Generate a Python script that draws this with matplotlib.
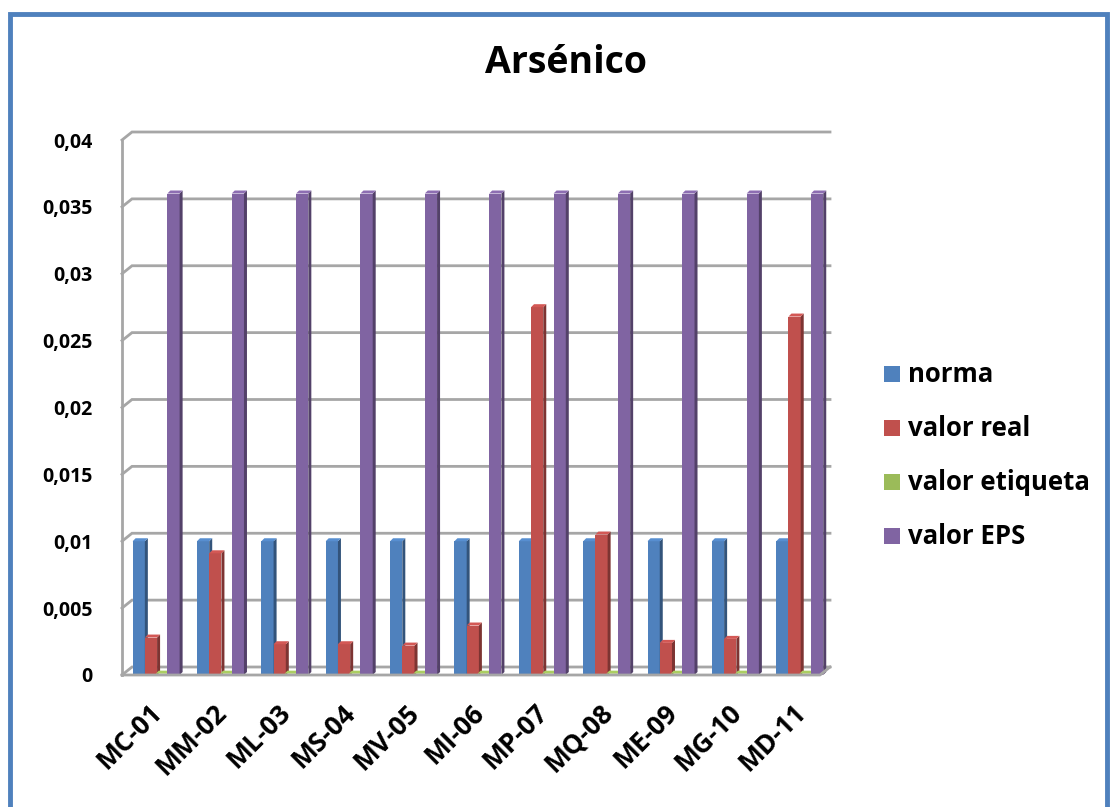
import numpy as np
import matplotlib.pyplot as plt
import matplotlib.transforms as mtransforms
from matplotlib.patches import Polygon, Rectangle
from matplotlib.colors import to_rgb

plt.rcParams['font.family'] = ['Open Sans', 'DejaVu Sans']

# Arsénico por punto de muestreo (mg/L)
sites = ['MC-01', 'MM-02', 'ML-03', 'MS-04', 'MV-05', 'MI-06',
         'MP-07', 'MQ-08', 'ME-09', 'MG-10', 'MD-11']
norma = [0.01] * 11
valor_real = [0.0028, 0.0091, 0.0023, 0.0023, 0.0022, 0.0037,
              0.0275, 0.0105, 0.0024, 0.0027, 0.0268]
valor_etiqueta = [0.0001] * 11
valor_eps = [0.036] * 11

series_names = ['norma', 'valor real', 'valor etiqueta', 'valor EPS']
series_colors = ['#4F81BD', '#C0504D', '#9BBB59', '#8064A2']
y_ticks = [0, 0.005, 0.01, 0.015, 0.02, 0.025, 0.03, 0.035, 0.04]
y_tick_labels = ['0', '0,005', '0,01', '0,015', '0,02', '0,025', '0,03', '0,035', '0,04']

W, H = 1111, 807
fig = plt.figure(figsize=(W / 100, H / 100), dpi=100)

# plot area in pixels (front face)
px_left, px_right, px_bottom, px_top = 122, 830, 675, 140
ax = fig.add_axes([px_left / W, (H - px_bottom) / H,
                   (px_right - px_left) / W, (px_bottom - px_top) / H])
ax.set_xlim(-0.5, len(sites) - 0.5)
ax.set_ylim(0, 0.04)
for s in ax.spines.values():
    s.set_visible(False)

# pixel -> data unit conversion for the fake depth
cat_px = (px_right - px_left) / len(sites)
val_px = (px_bottom - px_top) / 0.04
depth_x = 10 / cat_px
depth_y = 8 / val_px
grid_color = '#A6A6A6'

# back wall gridlines with the little diagonal to the side wall
x0 = -0.5
x1 = len(sites) - 0.5
for v in y_ticks:
    ax.plot([x0, x0 + depth_x, x1], [v, v + depth_y, v + depth_y],
            color=grid_color, lw=2.0, clip_on=False, zorder=1,
            solid_joinstyle='miter')
# side wall edge and floor
ax.plot([x0, x0], [0, 0.04], color=grid_color, lw=2.0, clip_on=False, zorder=1)
ax.plot([x0, x1 - depth_x, x1], [0, 0, depth_y], color=grid_color, lw=2.0,
        clip_on=False, zorder=6)

# bars with a darker side and top face
bar_w = 0.19
offsets = [-0.24, -0.05, 0.12, 0.30]
side_x = 3 / cat_px
side_y = 3 / val_px
all_series = [norma, valor_real, valor_etiqueta, valor_eps]
x = np.arange(len(sites))
for k, (vals, col) in enumerate(zip(all_series, series_colors)):
    rgb = np.array(to_rgb(col))
    dark = rgb * 0.65
    top = np.clip(rgb * 1.1, 0, 1)
    bars = ax.bar(x + offsets[k], vals, width=bar_w, color=col,
                  zorder=3 + k * 0.1, label=series_names[k])
    for b in bars:
        bx, bw, bh = b.get_x(), b.get_width(), b.get_height()
        side = Polygon([(bx + bw, 0), (bx + bw + side_x, side_y),
                        (bx + bw + side_x, bh + side_y), (bx + bw, bh)],
                       closed=True, facecolor=dark, edgecolor='none',
                       zorder=3 + k * 0.1)
        cap = Polygon([(bx, bh), (bx + side_x, bh + side_y),
                       (bx + bw + side_x, bh + side_y), (bx + bw, bh)],
                      closed=True, facecolor=top, edgecolor='none',
                      zorder=3 + k * 0.1)
        ax.add_patch(side)
        ax.add_patch(cap)

ax.set_yticks(y_ticks)
ax.set_yticklabels(y_tick_labels, fontsize=14, fontweight='bold')
ax.tick_params(axis='y', length=0, pad=21)

ax.set_xticks(x)
ax.set_xticklabels(sites, fontsize=19, fontweight='bold', rotation=45,
                   ha='right', va='center', rotation_mode='anchor')
ax.tick_params(axis='x', length=0, pad=24)
shift = mtransforms.ScaledTranslation(4 / 100, 0, fig.dpi_scale_trans)
for lbl in ax.get_xticklabels():
    lbl.set_transform(lbl.get_transform() + shift)

fig.text(566 / W, 1 - 63 / H, 'Arsénico', ha='center', va='center',
         fontsize=27, fontweight='bold')

# legend
leg_y = [374, 428, 482, 536]
for name, col, ly in zip(series_names, series_colors, leg_y):
    fig.patches.append(Rectangle((884 / W, 1 - (ly + 8) / H), 16 / W, 16 / H,
                                 transform=fig.transFigure, facecolor=col,
                                 edgecolor='none'))
    fig.text(908 / W, 1 - ly / H, name, ha='left', va='center',
             fontsize=18.5, fontweight='bold')

# blue frame around the chart
fig.patches.append(Rectangle((10 / W, -0.05), (1107 - 10) / W, 1.05 - 14 / H,
                             transform=fig.transFigure, facecolor='none',
                             edgecolor='#4F81BD', lw=3.5))

fig.savefig('out.png', dpi=100)
